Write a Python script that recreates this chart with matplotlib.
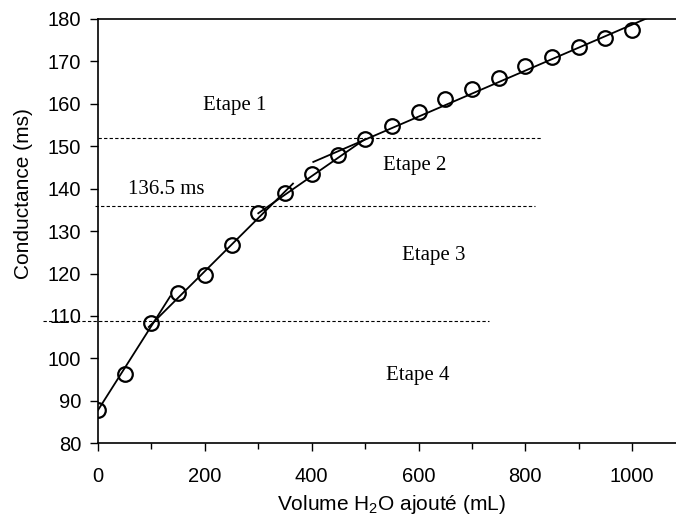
import matplotlib
matplotlib.use("Agg")
import matplotlib.pyplot as plt

plt.rcParams['font.family'] = ['Liberation Sans', 'DejaVu Sans']
plt.rcParams['mathtext.fontset'] = 'custom'
plt.rcParams['mathtext.rm'] = 'Liberation Sans'
plt.rcParams['mathtext.it'] = 'Liberation Sans:italic'

# mesures
volume = [0, 50, 100, 150, 200, 250, 300, 350, 400, 450, 500,
          550, 600, 650, 700, 750, 800, 850, 900, 950, 1000]
conductance = [87.8, 96.2, 108.4, 115.4, 119.7, 126.8, 134.3, 139.0, 143.4, 147.9, 151.7,
               154.8, 158.1, 161.1, 163.4, 166.0, 168.9, 171.1, 173.5, 175.4, 177.3]

# droites par etape (x debut, x fin, y debut, y fin)
fit_x0 = [403, 300, 95, 0]
fit_x1 = [1030, 500, 365, 135]
fit_y0 = [146.3, 134.2, 107.4, 87.8]
fit_y1 = [180.3, 151.7, 141.2, 114.6]

# limites des etapes (pointilles)
seuils = [151.9, 135.8, 108.7]
seuil_x0 = [0, -5, -103]
seuil_x1 = [829, 818, 732]

etapes = ["Etape 1", "Etape 2", "Etape 3", "Etape 4"]
etape_x = [255, 592, 629, 598]
etape_y = [159.6, 145.5, 124.2, 95.9]

fig = plt.figure(figsize=(6.76, 5.27), dpi=100)
ax = fig.add_axes([0.145, 0.159, 0.855, 0.805])

for a, b, c, d in zip(fit_x0, fit_x1, fit_y0, fit_y1):
    ax.plot([a, b], [c, d], color='black', lw=1.3, zorder=3)

ax.plot(volume, conductance, 'o', mfc='none', mec='black', ms=10.5, mew=1.6, zorder=4)

for y, a, b in zip(seuils, seuil_x0, seuil_x1):
    ax.plot([a, b], [y, y], color='black', lw=0.8, dashes=(3, 2), clip_on=False, zorder=2)

for t, x, y in zip(etapes, etape_x, etape_y):
    ax.text(x, y, t, ha='center', va='center', fontsize=15, family='Liberation Serif')
ax.text(127, 139.8, "136.5 ms", ha='center', va='center', fontsize=15, family='Liberation Serif')

ax.set_xlim(0, 1082)
ax.set_ylim(80, 180)
ax.set_xticks(range(0, 1001, 200))
ax.set_xticks(range(100, 1001, 200), minor=True)
ax.set_yticks(range(80, 181, 10))
ax.tick_params(axis='both', labelsize=14.5, direction='out', length=6, width=1)
ax.tick_params(axis='y', pad=6)
ax.tick_params(axis='x', which='minor', length=4, width=1)
ax.tick_params(axis='x', pad=11)
ax.spines['right'].set_visible(False)
for s in ['left', 'bottom', 'top']:
    ax.spines[s].set_linewidth(1.2)

ax.set_xlabel("Volume H$_2$O ajouté (mL)", fontsize=15)
ax.set_ylabel("Conductance (ms)", fontsize=15)
ax.xaxis.set_label_coords(0.508, -0.118)
ax.yaxis.set_label_coords(-0.112, 0.588)

fig.savefig("out.png", dpi=100)
